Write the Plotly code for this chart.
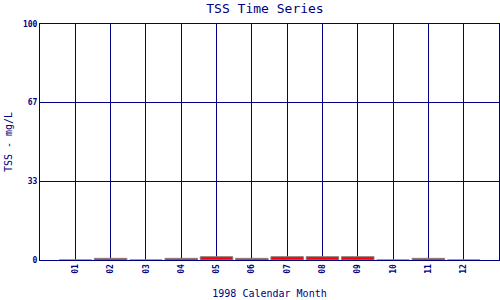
import plotly.graph_objects as go

months = ["01", "02", "03", "04", "05", "06", "07", "08", "09", "10", "11", "12"]
positions = list(range(1, 13))
tss_values = [0.0, 0.7, 0.0, 0.7, 1.4, 0.7, 1.4, 1.4, 1.4, 0.0, 0.7, 0.0]
y_tickvals = [0, 100 / 3, 200 / 3, 100]
y_ticktext = ["0", "33", "67", "100"]

navy = "#000080"
font = "DejaVu Sans Mono"

fig = go.Figure()
fig.add_trace(go.Bar(
    x=positions,
    y=tss_values,
    width=0.92,
    marker=dict(color="#ff0000", line=dict(color="#808080", width=1)),
    hoverinfo="skip",
))

fig.update_layout(
    width=500,
    height=300,
    margin=dict(l=40, r=1, t=24, b=40),
    paper_bgcolor="white",
    plot_bgcolor="white",
    showlegend=False,
    title=dict(text="TSS Time Series", x=0.53, xanchor="center", y=0.973, yanchor="middle",
               font=dict(family=font, size=13, color=navy)),
    font=dict(family=font, color=navy),
)
fig.update_xaxes(
    range=[0, 13],
    tickvals=positions,
    ticktext=months,
    tickangle=-90,
    tickfont=dict(family=font, size=8, color=navy, weight="bold"),
    showgrid=True,
    gridcolor=navy,
    gridwidth=1,
    showline=True,
    linecolor=navy,
    linewidth=1,
    mirror=True,
    ticks="",
    zeroline=False,
    title=dict(text="1998 Calendar Month", font=dict(family=font, size=10, color=navy), standoff=17),
)
fig.update_yaxes(
    range=[0, 100],
    tickvals=y_tickvals,
    ticktext=y_ticktext,
    tickfont=dict(family=font, size=8, color=navy, weight="bold"),
    showgrid=True,
    gridcolor=navy,
    gridwidth=1,
    showline=True,
    linecolor=navy,
    linewidth=1,
    mirror=True,
    ticks="",
    zeroline=False,
    title=dict(text="TSS - mg/L", font=dict(family=font, size=10, color=navy), standoff=8),
)

fig.write_html("out.html")
